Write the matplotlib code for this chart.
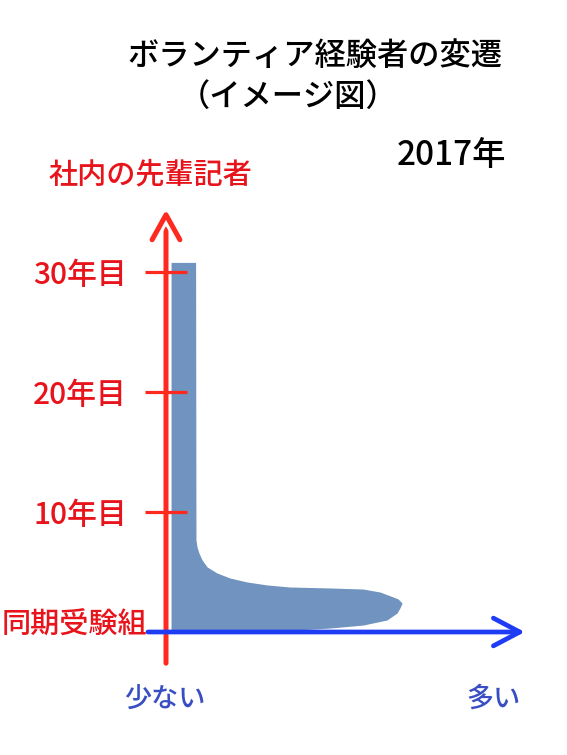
import matplotlib
matplotlib.use('Agg')
import matplotlib.pyplot as plt
import matplotlib.patheffects as pe

plt.rcParams['font.family'] = ['Noto Sans CJK JP', 'DejaVu Sans']
plt.rcParams['font.weight'] = 'medium'

# 形のデータ（横: 人数の目安, 縦: 入社年数）
years = [0, 0.17, 0.33, 0.58, 1.0, 1.58, 2.0, 2.42, 2.75, 2.92, 3.33, 3.58,
         3.67, 3.75, 3.92, 4.17, 4.5, 4.92, 5.42, 6.0, 6.6, 7.08, 7.67, 30.8]
counts = [32, 36.3, 45.4, 54.6, 61.2, 64.0, 64.8, 65.4, 64.3, 62.9, 59.3, 54.6,
          45.4, 34.3, 28.0, 22.4, 17.7, 14.1, 11.4, 10.0, 9.1, 8.6, 8.3, 8.2]

tick_years = [10, 20, 30]
tick_labels = ['10年目', '20年目', '30年目']

W, H = 567, 755
RED = '#ff2a1f'
LABEL_RED = '#e8141c'
BLUE = '#1f3cf5'
TEXT_BLUE = '#3a4ec4'
FILL = '#7093bf'


def px(x, y):
    return x / W, 1 - y / H


fig = plt.figure(figsize=(W / 100, H / 100), dpi=100)
ax = fig.add_axes([166 / W, (H - 632) / H, 361 / W, 360 / H])
ax.set_xlim(0, 100)
ax.set_ylim(0, 30)
for s in ax.spines.values():
    s.set_visible(False)
ax.set_xticks([])
ax.set_axisbelow(False)

# 分布
ax.fill_betweenx(years, 0, counts, color=FILL, lw=0, zorder=1, clip_on=False)

# 縦軸（赤）
ax.annotate('', xy=(0, 35.2), xytext=(0, -2.6), annotation_clip=False,
            arrowprops=dict(arrowstyle='->,head_length=0.9,head_width=0.5',
                            mutation_scale=20, color=RED, lw=3.6,
                            shrinkA=0, shrinkB=0, capstyle='round',
                            joinstyle='round',
                            path_effects=[pe.Stroke(linewidth=8, foreground='white'),
                                          pe.Normal()]),
            zorder=2)

# 横軸（青）
ax.annotate('', xy=(99.4, 0), xytext=(-5, 0), annotation_clip=False,
            arrowprops=dict(arrowstyle='->,head_length=0.95,head_width=0.5',
                            mutation_scale=20, color=BLUE, lw=3.4,
                            shrinkA=0, shrinkB=0, capstyle='round',
                            joinstyle='round'),
            zorder=2.2)

ax.set_yticks(tick_years)
ax.set_yticklabels(tick_labels)
ax.tick_params(axis='y', direction='inout', length=30, width=2.3, color=RED,
               labelcolor=LABEL_RED, labelsize=21.5, pad=13)

# テキスト
fig.text(*px(315, 56), 'ボランティア経験者の変遷', fontsize=22.5, ha='center', va='center')
fig.text(*px(288, 97), '（イメージ図）', fontsize=22.5, ha='center', va='center')
fig.text(*px(451, 156), '2017年', fontsize=24, ha='center', va='center')
fig.text(*px(150, 175), '社内の先輩記者', fontsize=21, color=LABEL_RED, ha='center', va='center')
fig.text(*px(147, 625), '同期受験組', fontsize=21, color=LABEL_RED, ha='right', va='center')
fig.text(*px(165, 699), '少ない', fontsize=19.5, color=TEXT_BLUE, ha='center', va='center')
fig.text(*px(494, 699), '多い', fontsize=19.5, color=TEXT_BLUE, ha='center', va='center')

fig.savefig('out.png', dpi=100, facecolor='white')
